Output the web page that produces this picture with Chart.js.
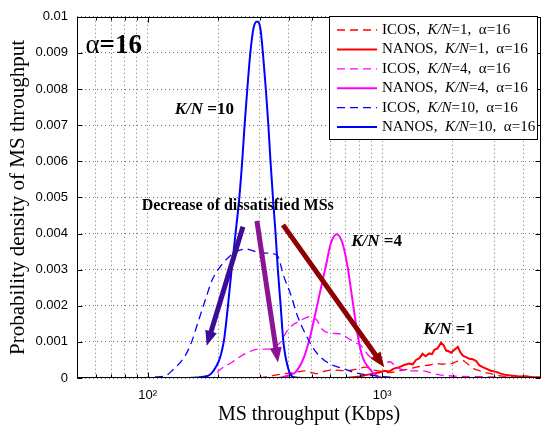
<!DOCTYPE html>
<html lang="en">
<head>
<meta charset="UTF-8">
<title>MS throughput density</title>
<script src="https://cdn.jsdelivr.net/npm/chart.js"></script>
<style>
  html, body { margin: 0; padding: 0; background: #fff; }
  canvas { display: block; }
</style>
</head>
<body>
<canvas id="grafico" width="544" height="427"></canvas>
<script>
// [throughput (Kbps), probability density]
const icosKn1 = [[50,0],[280,0],[320,0.00003],[350,0.00008],[380,0.00012],[420,0.00015],[470,0.0002],[520,0.00012],[560,0.00018],[620,0.00022],[700,0.0002],[780,0.00025],[850,0.0003],[920,0.00022],[1000,0.00018],[1080,0.00015],[1180,0.0002],[1300,0.00025],[1400,0.0003],[1500,0.00034],[1590,0.00036],[1700,0.0004],[1800,0.00038],[1900,0.0004],[1970,0.0004],[2080,0.00046],[2200,0.00049],[2280,0.00042],[2350,0.00035],[2450,0.00026],[2600,0.0002],[2750,0.00015],[2860,0.00013],[3050,0.00008],[3260,0.00005],[3600,0.00003],[4000,0.00002],[4750,0]];
const nanosKn1 = [[50,0],[700,0],[800,0.00004],[880,0.0001],[970,0.00015],[1020,0.0002],[1071,0.00018],[1120,0.00026],[1182,0.0003],[1240,0.00036],[1303,0.0004],[1350,0.00038],[1393,0.0005],[1440,0.00055],[1486,0.00067],[1530,0.0006],[1588,0.00068],[1630,0.00066],[1668,0.00078],[1720,0.00082],[1782,0.00098],[1830,0.0009],[1872,0.00076],[1920,0.00074],[1966,0.0007],[2030,0.00078],[2099,0.00086],[2150,0.00072],[2204,0.00062],[2280,0.00058],[2354,0.00053],[2430,0.00052],[2514,0.00047],[2560,0.0004],[2597,0.00035],[2680,0.0003],[2773,0.00026],[2900,0.0002],[3061,0.00017],[3200,0.00012],[3379,0.00008],[3600,0.00006],[3848,0.00004],[4100,0.00005],[4373,0.00002],[4750,0.00002]];
const icosKn4 = [[50,0],[190,0],[201,0.0002],[228,0.00043],[262,0.00068],[298,0.0008],[329,0.0008],[363,0.00095],[401,0.00138],[442,0.00157],[496,0.0017],[527,0.0016],[554,0.00135],[611,0.00124],[666,0.00122],[722,0.00108],[772,0.00097],[811,0.0009],[880,0.0006],[950,0.00045],[1000,0.0004],[1080,0.00045],[1150,0.0003],[1300,0.0002],[1480,0.0002],[1700,0.0001],[2070,0.00005],[3000,0.00003],[4750,0]];
const nanosKn4 = [[50,0],[360,0],[401,0.00008],[428,0.00017],[464,0.00058],[496,0.00122],[521,0.00184],[547,0.00247],[575,0.0031],[604,0.00373],[640,0.00398],[677,0.00373],[711,0.0031],[735,0.00247],[759,0.00184],[784,0.00122],[824,0.00058],[880,0.00027],[952,0.00005],[1050,0],[4750,0]];
const icosKn10 = [[50,0],[90,0],[108,0.00003],[119,0.00006],[127,0.0002],[144,0.0006],[154,0.001],[165,0.0016],[177,0.0022],[188,0.0027],[205,0.0031],[233,0.00346],[262,0.00357],[289,0.0035],[319,0.00346],[356,0.0034],[381,0.0028],[408,0.0023],[433,0.00176],[464,0.0013],[522,0.00072],[594,0.0004],[675,0.00027],[774,0.00014],[880,0.00008],[1000,0.00004],[1300,0],[4750,0]];
const nanosKn10 = [[50,0],[140,0],[170,0.00003],[191,0.0002],[211,0.001],[220,0.002],[228,0.003],[237,0.004],[246,0.005],[253,0.006],[259,0.007],[266,0.008],[274,0.009],[283,0.0097],[293,0.00987],[302,0.0097],[310,0.009],[319,0.008],[327,0.007],[334,0.006],[342,0.005],[351,0.004],[359,0.003],[369,0.002],[379,0.001],[400,0.0002],[420,0.00002],[460,0],[4750,0]];

const schemes = ['ICOS', 'NANOS', 'ICOS', 'NANOS', 'ICOS', 'NANOS'];
const loads = [1, 1, 4, 4, 10, 10];
const alphaValue = 16;
const xTickValues = [50, 60, 70, 80, 90, 100, 200, 300, 400, 500, 600, 700, 800, 900, 1000, 2000, 3000, 4000];
const xMajorValues = [100, 1000];
const xMajorLabels = ['10²', '10³'];
const yTickValues = [0, 0.001, 0.002, 0.003, 0.004, 0.005, 0.006, 0.007, 0.008, 0.009, 0.01];

const serif = '"Liberation Serif", "Times New Roman", serif';
const sans = '"Liberation Sans", Arial, sans-serif';

const series = [icosKn1, nanosKn1, icosKn4, nanosKn4, icosKn10, nanosKn10];
const cores = ['#ff0000', '#ff0000', '#ff00ff', '#ff00ff', '#0000ff', '#0000ff'];

const datasets = series.map((pts, i) => {
  const dashed = i % 2 === 0;
  return {
    label: schemes[i] + ', K/N=' + loads[i] + ', α=' + alphaValue,
    data: pts.map(([x, y]) => ({ x, y })),
    borderColor: cores[i],
    borderWidth: dashed ? 1.3 : 2,
    borderDash: dashed ? [8, 5] : [],
    pointRadius: 0,
    tension: i === 1 ? 0 : 0.3,
    cubicInterpolationMode: i === 1 ? 'default' : 'monotone',
    fill: false,
    order: 6 - i
  };
});

// arrows: from -> to, in data units
const setas = [
  { from: [254.8, 0.00419], to: [178.6, 0.00089], color: '#3c0c98' },
  { from: [292.3, 0.00435], to: [359.4, 0.00043], color: '#8a1494' },
  { from: [377.6, 0.00424], to: [1019.8, 0.0003], color: '#8e0000' }
];

function seta(ctx, x1, y1, x2, y2, color) {
  const dx = x2 - x1, dy = y2 - y1;
  const len = Math.hypot(dx, dy);
  const ux = dx / len, uy = dy / len;
  const head = 15, half = 6;
  const bx = x2 - ux * head, by = y2 - uy * head;
  ctx.strokeStyle = color;
  ctx.fillStyle = color;
  ctx.lineWidth = 5;
  ctx.setLineDash([]);
  ctx.beginPath();
  ctx.moveTo(x1, y1);
  ctx.lineTo(bx + ux * 2, by + uy * 2);
  ctx.stroke();
  ctx.beginPath();
  ctx.moveTo(x2, y2);
  ctx.lineTo(bx - uy * half, by + ux * half);
  ctx.lineTo(bx + uy * half, by - ux * half);
  ctx.closePath();
  ctx.fill();
}

function pedacos(ctx, x, y, parts) {
  parts.forEach(p => {
    ctx.font = p.font;
    ctx.fillText(p.t, x, y);
    x += ctx.measureText(p.t).width;
  });
}

const extras = {
  id: 'extras',
  afterDatasetsDraw(chart) {
    const { ctx, chartArea: a, scales: { x, y } } = chart;
    ctx.save();
    setas.forEach(s => seta(ctx,
      x.getPixelForValue(s.from[0]), y.getPixelForValue(s.from[1]),
      x.getPixelForValue(s.to[0]), y.getPixelForValue(s.to[1]), s.color));

    ctx.fillStyle = '#000';
    ctx.textBaseline = 'middle';
    const px = v => x.getPixelForValue(v), py = v => y.getPixelForValue(v);
    pedacos(ctx, px(54.3), py(0.00919), [
      { t: 'α', font: '27px ' + serif },
      { t: '=16', font: 'bold 27px ' + serif }
    ]);
    pedacos(ctx, px(130.4), py(0.00743), [
      { t: 'K/N', font: 'italic bold 17px ' + serif },
      { t: ' =10', font: 'bold 17px ' + serif }
    ]);
    pedacos(ctx, px(94.3), py(0.00476), [
      { t: 'Decrease of dissatisfied MSs', font: 'bold 16px ' + serif }
    ]);
    pedacos(ctx, px(737), py(0.00378), [
      { t: 'K/N', font: 'italic bold 17px ' + serif },
      { t: ' =4', font: 'bold 17px ' + serif }
    ]);
    pedacos(ctx, px(1496), py(0.00135), [
      { t: 'K/N', font: 'italic bold 17px ' + serif },
      { t: ' =1', font: 'bold 17px ' + serif }
    ]);

    // inward tick marks and box
    ctx.strokeStyle = '#000';
    ctx.lineWidth = 1;
    const L = Math.round(a.left) + 0.5, R = Math.round(a.right) - 0.5;
    const T = Math.round(a.top) + 0.5, B = Math.round(a.bottom) - 0.5;
    ctx.beginPath();
    xTickValues.forEach(v => {
      const xx = Math.round(px(v)) + 0.5;
      const tl = xMajorValues.includes(v) ? 5 : 3;
      ctx.moveTo(xx, B); ctx.lineTo(xx, B - tl);
      ctx.moveTo(xx, T); ctx.lineTo(xx, T + tl);
    });
    yTickValues.forEach(v => {
      const yy = Math.round(py(v)) + 0.5;
      ctx.moveTo(L, yy); ctx.lineTo(L + 5, yy);
      ctx.moveTo(R, yy); ctx.lineTo(R - 5, yy);
    });
    ctx.stroke();
    ctx.strokeRect(L, T, R - L, B - T);
    ctx.restore();
  },
  afterDraw(chart) {
    const { ctx } = chart;
    const bx = 329, by = 16, bw = 208, bh = 123, rowH = 19.4;
    ctx.save();
    ctx.fillStyle = '#fff';
    ctx.fillRect(bx, by, bw, bh);
    ctx.strokeStyle = '#000';
    ctx.lineWidth = 1;
    ctx.strokeRect(bx + 0.5, by + 0.5, bw, bh);
    chart.data.datasets.forEach((ds, i) => {
      const yy = by + 14 + i * rowH;
      ctx.strokeStyle = ds.borderColor;
      ctx.lineWidth = ds.borderWidth;
      ctx.setLineDash(ds.borderDash);
      ctx.beginPath();
      ctx.moveTo(337, yy);
      ctx.lineTo(377, yy);
      ctx.stroke();
      ctx.setLineDash([]);
      ctx.fillStyle = '#000';
      ctx.textBaseline = 'middle';
      pedacos(ctx, 382, yy, [
        { t: schemes[i] + ',  ', font: '15px ' + serif },
        { t: 'K/N', font: 'italic 15px ' + serif },
        { t: '=' + loads[i] + ',  α=' + alphaValue, font: '15px ' + serif }
      ]);
    });
    ctx.restore();
  }
};

new Chart(document.getElementById('grafico'), {
  type: 'line',
  data: { datasets },
  options: {
    responsive: false,
    animation: false,
    devicePixelRatio: 1,
    layout: { padding: { top: 8, right: 3, left: 0, bottom: 0 } },
    plugins: { legend: { display: false }, tooltip: { enabled: false } },
    scales: {
      x: {
        type: 'logarithmic',
        min: 50,
        max: 4750,
        afterFit(s) { s.height = 49; },
        afterBuildTicks(s) { s.ticks = xTickValues.map(v => ({ value: v })); },
        ticks: {
          autoSkip: false,
          maxRotation: 0,
          padding: 10,
          color: '#000',
          font: { family: sans, size: 13 },
          callback: v => {
            const k = xMajorValues.indexOf(v);
            return k >= 0 ? xMajorLabels[k] : '';
          }
        },
        grid: { color: 'rgba(0,0,0,0.55)', drawTicks: false },
        border: { display: false, dash: [1, 3] },
        title: {
          display: true,
          text: 'MS throughput (Kbps)',
          color: '#000',
          font: { family: serif, size: 20 },
          padding: { top: 0, bottom: 0 }
        }
      },
      y: {
        min: 0,
        max: 0.01,
        afterFit(s) { s.width = 77; },
        afterBuildTicks(s) { s.ticks = yTickValues.map(v => ({ value: v })); },
        ticks: {
          padding: 9,
          color: '#000',
          font: { family: sans, size: 13 },
          callback: v => String(parseFloat(v.toFixed(3)))
        },
        grid: { color: 'rgba(0,0,0,0.55)', drawTicks: false },
        border: { display: false, dash: [1, 3] },
        title: {
          display: true,
          text: 'Probability density of MS throughput',
          color: '#000',
          font: { family: serif, size: 21 },
          padding: { top: 6, bottom: 0 }
        }
      }
    }
  },
  plugins: [extras]
});
</script>
</body>
</html>
